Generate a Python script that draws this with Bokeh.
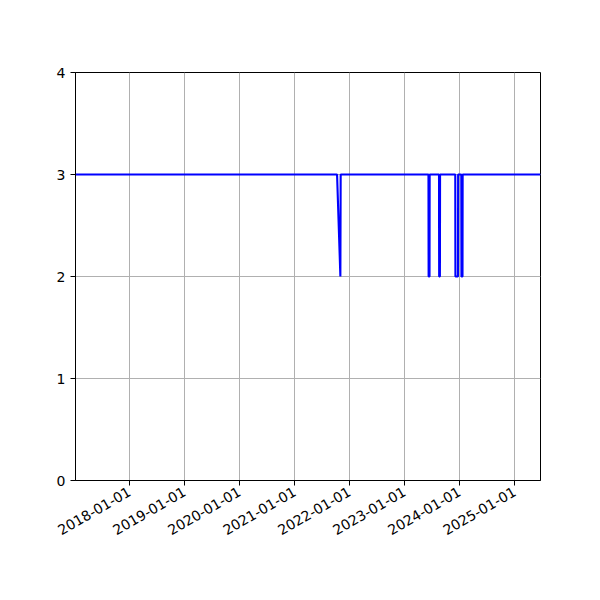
import pandas as pd
from math import pi
from bokeh.plotting import figure
from bokeh.models import Range1d, FixedTicker, DatetimeTickFormatter, ColumnDataSource
from bokeh.embed import file_html
from bokeh.resources import INLINE

# Data (value level per date)
dates = [
    "2017-01-07", "2021-10-10", "2021-11-01", "2021-11-03",
    "2023-06-09", "2023-06-10", "2023-06-16", "2023-06-17",
    "2023-08-18", "2023-08-19", "2023-08-24", "2023-08-25",
    "2023-12-04", "2023-12-05", "2023-12-22", "2023-12-23",
    "2024-01-13", "2024-01-14", "2024-01-21", "2024-01-22",
    "2025-06-22",
]
values = [
    3, 3, 2, 3,
    3, 2, 2, 3,
    3, 2, 2, 3,
    3, 2, 2, 3,
    3, 2, 2, 3,
    3,
]
x_tick_dates = ["2018-01-01", "2019-01-01", "2020-01-01", "2021-01-01",
                "2022-01-01", "2023-01-01", "2024-01-01", "2025-01-01"]
y_ticks = [0, 1, 2, 3, 4]

dt = pd.to_datetime(dates)
src = ColumnDataSource(dict(x=dt, y=values))

p = figure(width=600, height=600, output_backend="svg", toolbar_location=None,
           x_axis_type="datetime",
           x_range=Range1d(dt.min(), dt.max()), y_range=Range1d(0, 4),
           min_border_left=75, min_border_right=60, min_border_top=72, min_border_bottom=120)

p.line("x", "y", source=src, line_color="blue", line_width=2.1)

tick_ms = [pd.Timestamp(d).value / 1e6 for d in x_tick_dates]
p.xaxis.ticker = FixedTicker(ticks=tick_ms)
fmt = "%Y-%m-%d"
p.xaxis.formatter = DatetimeTickFormatter(years=fmt, months=fmt, days=fmt, hours=fmt,
                                          minutes=fmt, seconds=fmt, milliseconds=fmt,
                                          microseconds=fmt, minsec=fmt, hourmin=fmt)
p.xaxis.major_label_orientation = pi / 6
p.yaxis.ticker = FixedTicker(ticks=y_ticks)

for ax in (p.xaxis, p.yaxis):
    ax.major_label_text_font = "DejaVu Sans"
    ax.major_label_text_font_size = "14px"
    ax.major_label_text_color = "black"
    ax.axis_line_color = "black"
    ax.axis_line_width = 1
    ax.major_tick_line_color = "black"
    ax.major_tick_out = 5
    ax.major_tick_in = 0
    ax.minor_tick_line_color = None

p.xgrid.ticker = FixedTicker(ticks=tick_ms)
p.ygrid.ticker = FixedTicker(ticks=y_ticks)
for g in (p.xgrid, p.ygrid):
    g.grid_line_color = "#b0b0b0"
    g.grid_line_width = 1

p.outline_line_color = "black"
p.outline_line_width = 1
p.background_fill_color = "white"
p.border_fill_color = "white"

open("out.html", "w").write(file_html(p, INLINE))
